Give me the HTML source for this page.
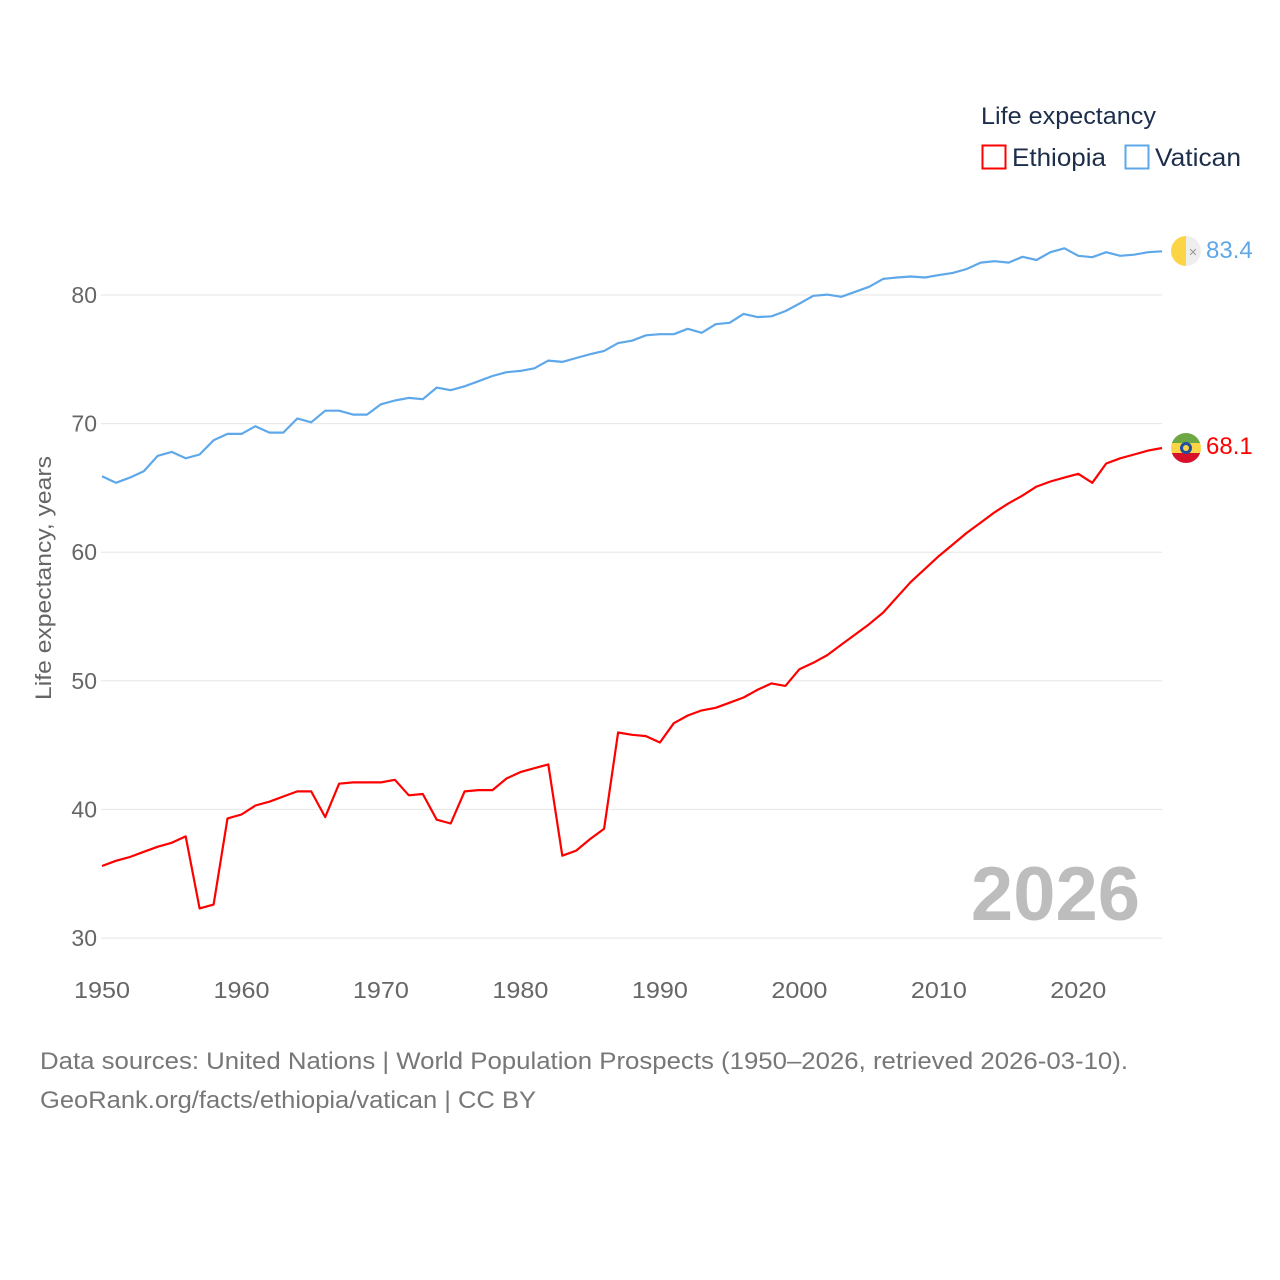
<!DOCTYPE html>
<html><head><meta charset="utf-8"><style>
html,body{margin:0;padding:0;background:#fff;width:1280px;height:1280px;overflow:hidden}
svg{display:block;font-family:"Liberation Sans",sans-serif}
</style></head><body>
<svg id="chart" width="1280" height="1280" viewBox="0 0 1280 1280">
<g id="grid"></g>
<g id="yt"></g>
<g id="xt"></g>
<text transform="translate(51,578) rotate(-90)" text-anchor="middle" font-size="22" fill="#666" textLength="244" lengthAdjust="spacingAndGlyphs">Life expectancy, years</text>
<text x="1140" y="920" text-anchor="end" font-size="76" font-weight="bold" fill="#bdbdbd">2026</text>
<g id="lines"></g>
<g>
<text x="981" y="124" font-size="24" fill="#1c2e4a" textLength="175" lengthAdjust="spacingAndGlyphs">Life expectancy</text>
<g>
<rect x="982.5" y="145.5" width="23" height="23" fill="none" stroke="#ff0000" stroke-width="2"/>
<text x="1012" y="166" font-size="25" fill="#1c2e4a" textLength="94" lengthAdjust="spacingAndGlyphs">Ethiopia</text></g>
<g>
<rect x="1125.5" y="145.5" width="23" height="23" fill="none" stroke="#5ea8ea" stroke-width="2"/>
<text x="1155" y="166" font-size="25" fill="#1c2e4a" textLength="86" lengthAdjust="spacingAndGlyphs">Vatican</text></g>
</g>
<g>
<clipPath id="cv"><circle cx="1186" cy="251" r="15"/></clipPath>
<g clip-path="url(#cv)"><rect x="1171" y="236" width="15" height="30" fill="#fcd547"/><rect x="1186" y="236" width="15" height="30" fill="#eeeeee"/></g>
<text x="1193" y="256" font-size="11" text-anchor="middle" fill="#999">✕</text>
</g>
<g>
<clipPath id="ce"><circle cx="1186" cy="448" r="15"/></clipPath>
<g clip-path="url(#ce)"><rect x="1171" y="433" width="30" height="10" fill="#6ea844"/><rect x="1171" y="443" width="30" height="10" fill="#fcd547"/><rect x="1171" y="453" width="30" height="10" fill="#d8112b"/></g>
<circle cx="1186" cy="448" r="6" fill="#1f4fa0"/><circle cx="1186" cy="448" r="3" fill="#fcd547"/>
</g>
<text x="1206" y="258" font-size="24" fill="#5ea8ea">83.4</text>
<text x="1206" y="454" font-size="24" fill="#ff0000">68.1</text>
<text x="40" y="1069" font-size="24" fill="#777" textLength="1088" lengthAdjust="spacingAndGlyphs">Data sources: United Nations | World Population Prospects (1950–2026, retrieved 2026-03-10).</text>
<text x="40" y="1108" font-size="24" fill="#777" textLength="496" lengthAdjust="spacingAndGlyphs">GeoRank.org/facts/ethiopia/vatican | CC BY</text>
</svg>
<script>
const years = [];
for (let y = 1950; y <= 2026; y++) years.push(y);
const ethiopia = [35.6,36.0,36.3,36.7,37.1,37.4,37.9,32.3,32.6,39.3,39.6,40.3,40.6,41.0,41.4,41.4,39.4,42.0,42.1,42.1,42.1,42.3,41.1,41.2,39.2,38.9,41.4,41.5,41.5,42.4,42.9,43.2,43.5,36.4,36.8,37.7,38.5,45.98,45.8,45.7,45.2,46.7,47.3,47.7,47.9,48.3,48.7,49.3,49.8,49.6,50.9,51.4,52.0,52.8,53.6,54.4,55.3,56.5,57.7,58.7,59.7,60.6,61.5,62.3,63.1,63.8,64.4,65.1,65.5,65.8,66.1,65.4,66.9,67.3,67.6,67.9,68.1];
const vatican = [65.9,65.4,65.8,66.3,67.5,67.8,67.3,67.6,68.7,69.2,69.2,69.8,69.3,69.3,70.4,70.1,71.0,71.0,70.7,70.7,71.5,71.8,72.0,71.9,72.8,72.6,72.9,73.3,73.7,74.0,74.1,74.3,74.9,74.8,75.1,75.4,75.65,76.26,76.45,76.87,76.95,76.95,77.37,77.06,77.73,77.84,78.53,78.28,78.34,78.75,79.33,79.94,80.03,79.86,80.25,80.64,81.25,81.36,81.44,81.36,81.55,81.72,82.02,82.52,82.63,82.52,82.97,82.72,83.33,83.63,83.05,82.94,83.33,83.05,83.13,83.33,83.4];
const yTicks = [30,40,50,60,70,80];
const xTicks = [1950,1960,1970,1980,1990,2000,2010,2020];

const NS = 'http://www.w3.org/2000/svg';
const X = y => 102 + (y - 1950) * (1162 - 102) / 76;
const Y = v => 938 - (v - 30) * (938 - 295) / 50;
function mk(tag, attrs, parent) {
  const e = document.createElementNS(NS, tag);
  for (const k in attrs) e.setAttribute(k, attrs[k]);
  parent.appendChild(e); return e;
}
const grid = document.getElementById('grid'), yt = document.getElementById('yt'), xt = document.getElementById('xt'), lines = document.getElementById('lines');
yTicks.forEach(v => {
  const l = mk('line', {x1: 101, x2: 1162, y1: Y(v), y2: Y(v), stroke: '#e6e6e6', 'stroke-width': 1}, grid);
  
  
  const t = mk('text', {x: 97, y: Y(v) + 8, 'text-anchor': 'end', 'font-size': 23, fill: '#666'}, yt);
  t.textContent = v;
  
  
});
xTicks.forEach(v => {
  const t = mk('text', {x: X(v), y: 998, 'text-anchor': 'middle', 'font-size': 23, fill: '#666', textLength: 56, lengthAdjust: 'spacingAndGlyphs'}, xt);
  t.textContent = v;
  
  
});
function line(data, color, name) {
  const d = data.map((v, i) => (i ? 'L' : 'M') + X(years[i]).toFixed(1) + ' ' + Y(v).toFixed(1)).join(' ');
  const p = mk('path', {d: d, fill: 'none', stroke: color, 'stroke-width': 2.2, 'stroke-linejoin': 'round'}, lines);
  
  
}
line(vatican, '#5ea8ea', 'vatican-line');
line(ethiopia, '#ff0000', 'ethiopia-line');
</script>
</body></html>
